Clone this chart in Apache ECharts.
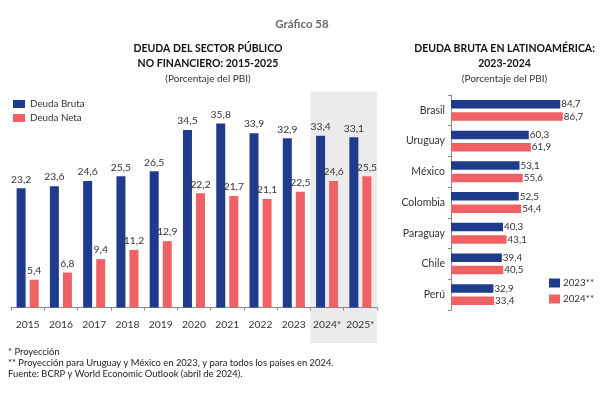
<!DOCTYPE html>
<html>
<head>
<meta charset="utf-8">
<script src="https://cdn.jsdelivr.net/npm/echarts@6/dist/echarts.min.js"></script>
<style>
  html, body { margin: 0; padding: 0; background: #fff; }
  #chart { width: 600px; height: 396px; }
</style>
</head>
<body>
<div id="chart"></div>
<script>
// data
const years = ['2015', '2016', '2017', '2018', '2019', '2020', '2021', '2022', '2023', '2024*', '2025*'];
const deudaBruta = [23.2, 23.6, 24.6, 25.5, 26.5, 34.5, 35.8, 33.9, 32.9, 33.4, 33.1];
const deudaNeta = [5.4, 6.8, 9.4, 11.2, 12.9, 22.2, 21.7, 21.1, 22.5, 24.6, 25.5];
const projYears = ['2024*', '2025*'];

const countries = ['Brasil', 'Uruguay', 'México', 'Colombia', 'Paraguay', 'Chile', 'Perú'];
const bruta2023 = [84.7, 60.3, 53.1, 52.5, 40.3, 39.4, 32.9];
const bruta2024 = [86.7, 61.9, 55.6, 54.4, 43.1, 40.5, 33.4];

const BLUE = '#1f3b8c';
const RED = '#f06166';
const FONT = "Lato, sans-serif";

const fmt = p => p.value.toFixed(1).replace('.', ',');

const chart = echarts.init(document.getElementById('chart'), null, {renderer: 'canvas'});

const titleStyle = {fontFamily: FONT, fontSize: 10.5, fontWeight: 'bold', color: '#111', lineHeight: 15, align: 'center'};
const subStyle = {fontFamily: FONT, fontSize: 10, color: '#333', lineHeight: 14, align: 'center'};

const option = {
    animation: false,
    textStyle: {fontFamily: FONT},
    title: [
        {text: 'Gráfico 58', left: 297, top: 13.5, textAlign: 'center',
         textStyle: {fontFamily: FONT, fontSize: 11.5, fontWeight: 'bold', color: '#6a6a6a'}},
        {text: 'DEUDA DEL SECTOR PÚBLICO\nNO FINANCIERO: 2015-2025', subtext: '(Porcentaje del PBI)',
         left: 203, top: 36.5, textAlign: 'center', itemGap: 0,
         textStyle: titleStyle, subtextStyle: subStyle},
        {text: 'DEUDA BRUTA EN LATINOAMÉRICA:\n2023-2024', subtext: '(Porcentaje del PBI)',
         left: 499.5, top: 36.5, textAlign: 'center', itemGap: 0,
         textStyle: titleStyle, subtextStyle: subStyle},
        {text: '* Proyección\n** Proyección para Uruguay y México en 2023, y para todos los países en 2024.\nFuente: BCRP y World Economic Outlook (abril de 2024).',
         left: 3, top: 341,
         textStyle: {fontFamily: FONT, fontSize: 9.4, fontWeight: 'normal', color: '#222', lineHeight: 11}}
    ],
    legend: [
        {data: ['Deuda Bruta', 'Deuda Neta'], orient: 'vertical', left: 8, top: 94,
         itemWidth: 12, itemHeight: 8, itemGap: 4, icon: 'rect',
         textStyle: {fontFamily: FONT, fontSize: 9.8, color: '#333'}},
        {data: ['2023**', '2024**'], orient: 'vertical', left: 544, top: 273,
         itemWidth: 11, itemHeight: 9, itemGap: 6, icon: 'rect',
         textStyle: {fontFamily: FONT, fontSize: 9.8, color: '#333', padding: [0, 0, 0, -2]}}
    ],
    grid: [
        {left: 11, right: 223, top: 91.5, bottom: 88.5},
        {left: 451, right: 20, top: 95, bottom: 86}
    ],
    xAxis: [
        {gridIndex: 0, type: 'category', data: years,
         axisLine: {lineStyle: {color: '#888'}},
         axisTick: {show: true, length: 3, lineStyle: {color: '#888'}},
         axisLabel: {interval: 0, color: '#333', fontSize: 10.3, margin: 12, fontFamily: FONT}},
        {gridIndex: 1, type: 'value', min: 0, max: 100, show: false}
    ],
    yAxis: [
        {gridIndex: 0, type: 'value', min: 0, max: 42, show: false},
        {gridIndex: 1, type: 'category', data: countries, inverse: true,
         axisLine: {lineStyle: {color: '#888'}},
         axisTick: {show: true, length: 3, lineStyle: {color: '#888'}},
         axisLabel: {interval: 0, color: '#333', fontSize: 10.5, margin: 6, fontFamily: FONT}}
    ],
    series: [
        {name: 'Deuda Bruta', type: 'bar', xAxisIndex: 0, yAxisIndex: 0, data: deudaBruta,
         barWidth: 9, barGap: '45%', itemStyle: {color: BLUE},
         label: {show: true, position: 'top', distance: 4, formatter: fmt, color: '#333', fontSize: 10.3}},
        {name: 'Deuda Neta', type: 'bar', xAxisIndex: 0, yAxisIndex: 0, data: deudaNeta,
         barWidth: 9, barGap: '45%', itemStyle: {color: RED},
         label: {show: true, position: 'top', distance: 4, formatter: fmt, color: '#333', fontSize: 10.3}},
        {name: '2023**', type: 'bar', xAxisIndex: 1, yAxisIndex: 1, data: bruta2023,
         barWidth: 8.5, barGap: '45%', itemStyle: {color: BLUE},
         label: {show: true, position: 'right', distance: 1, formatter: fmt, color: '#333', fontSize: 9.8}},
        {name: '2024**', type: 'bar', xAxisIndex: 1, yAxisIndex: 1, data: bruta2024,
         barWidth: 8.5, barGap: '45%', itemStyle: {color: RED},
         label: {show: true, position: 'right', distance: 1, formatter: fmt, color: '#333', fontSize: 9.8}}
    ]
};

chart.setOption(option);

// grey band behind the projected years, placed through the category scale
const c0 = chart.convertToPixel({xAxisIndex: 0}, projYears[0]);
const c1 = chart.convertToPixel({xAxisIndex: 0}, projYears[projYears.length - 1]);
const step = chart.convertToPixel({xAxisIndex: 0}, years[1]) - chart.convertToPixel({xAxisIndex: 0}, years[0]);
const yTop = chart.convertToPixel({yAxisIndex: 0}, 42);
chart.setOption({
    graphic: [{
        type: 'rect', z: -10, silent: true,
        shape: {x: c0 - step / 2, y: yTop, width: c1 - c0 + step, height: 343 - yTop},
        style: {fill: '#ebebeb'}
    }]
});
</script>
</body>
</html>
